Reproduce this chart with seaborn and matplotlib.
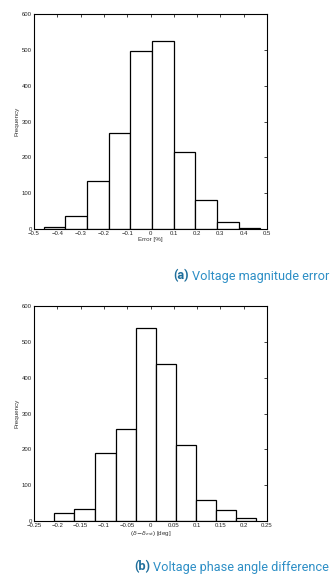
import numpy as np
import seaborn as sns
import matplotlib.pyplot as plt

# (a) voltage magnitude error histogram
mag_edges = [-0.455, -0.365, -0.271, -0.180, -0.087, 0.007, 0.099, 0.193, 0.285, 0.380, 0.468]
mag_counts = [6, 37, 135, 269, 498, 526, 216, 82, 19, 4]

# (b) voltage phase angle difference histogram
ang_edges = [-0.207, -0.164, -0.120, -0.075, -0.032, 0.011, 0.054, 0.097, 0.140, 0.183, 0.226]
ang_counts = [23, 34, 191, 258, 538, 437, 213, 60, 32, 7]

mag_ticks = [-0.5, -0.4, -0.3, -0.2, -0.1, 0, 0.1, 0.2, 0.3, 0.4, 0.5]
mag_ticklabels = ['\u22120.5', '\u22120.4', '\u22120.3', '\u22120.2', '\u22120.1', '0', '0.1', '0.2', '0.3', '0.4', '0.5']
ang_ticks = [-0.25, -0.2, -0.15, -0.1, -0.05, 0, 0.05, 0.1, 0.15, 0.2, 0.25]
ang_ticklabels = ['\u22120.25', '\u22120.2', '\u22120.15', '\u22120.1', '\u22120.05', '0', '0.05', '0.1', '0.15', '0.2', '0.25']
y_ticks = [0, 100, 200, 300, 400, 500, 600]

sns.set_style('white')
plt.rcParams['font.family'] = ['Liberation Sans', 'DejaVu Sans']

W, H = 336, 580
fig = plt.figure(figsize=(W / 100, H / 100), dpi=100)


def panel(rect, edges, counts, xlim, ticks, ticklabels, xlabel):
    ax = fig.add_axes(rect)
    centers = [(edges[i] + edges[i + 1]) / 2 for i in range(len(counts))]
    sns.histplot(x=centers, weights=counts, bins=edges, ax=ax,
                 color='white', edgecolor='black', linewidth=0.9, alpha=1)
    ax.set_xlim(*xlim)
    ax.set_ylim(0, 600)
    ax.set_xticks(ticks)
    ax.set_xticklabels(ticklabels)
    ax.set_yticks(y_ticks)
    ax.tick_params(direction='in', length=2.5, width=0.6, labelsize=4.3,
                   top=True, right=True, pad=1.5, colors='#222222')
    for s in ax.spines.values():
        s.set_linewidth(0.8)
        s.set_color('black')
    ax.set_xlabel(xlabel, fontsize=4.5, labelpad=0.5, color='#333333')
    ax.set_ylabel('Frequency', fontsize=4.5, labelpad=1.5, color='#333333')
    return ax


def px_rect(left, right, top, bottom):
    return [left / W, 1 - bottom / H, (right - left) / W, (bottom - top) / H]


panel(px_rect(34, 267, 14, 229), mag_edges, mag_counts, (-0.5, 0.5),
      mag_ticks, mag_ticklabels, 'Error [%]')
panel(px_rect(34, 267, 306, 521), ang_edges, ang_counts, (-0.25, 0.25),
      ang_ticks, ang_ticklabels, r'($\delta\!-\!\delta_{est}$) [deg]')


def caption(y_px, tag, text):
    t = fig.text(329 / W, 1 - y_px / H, text, ha='right', va='center',
                 fontsize=9.2, color='#2e8fc6', family=['Roboto', 'DejaVu Sans'])
    fig.canvas.draw()
    bb = t.get_window_extent()
    fig.text((bb.x0 - 3) / W, 1 - y_px / H, tag, ha='right', va='center',
             fontsize=9.2, color='#1f6f9c', fontweight='bold',
             family=['Roboto', 'DejaVu Sans'])


caption(276, '(a)', 'Voltage magnitude error')
caption(567, '(b)', 'Voltage phase angle difference')

fig.savefig('out.png', dpi=100)
